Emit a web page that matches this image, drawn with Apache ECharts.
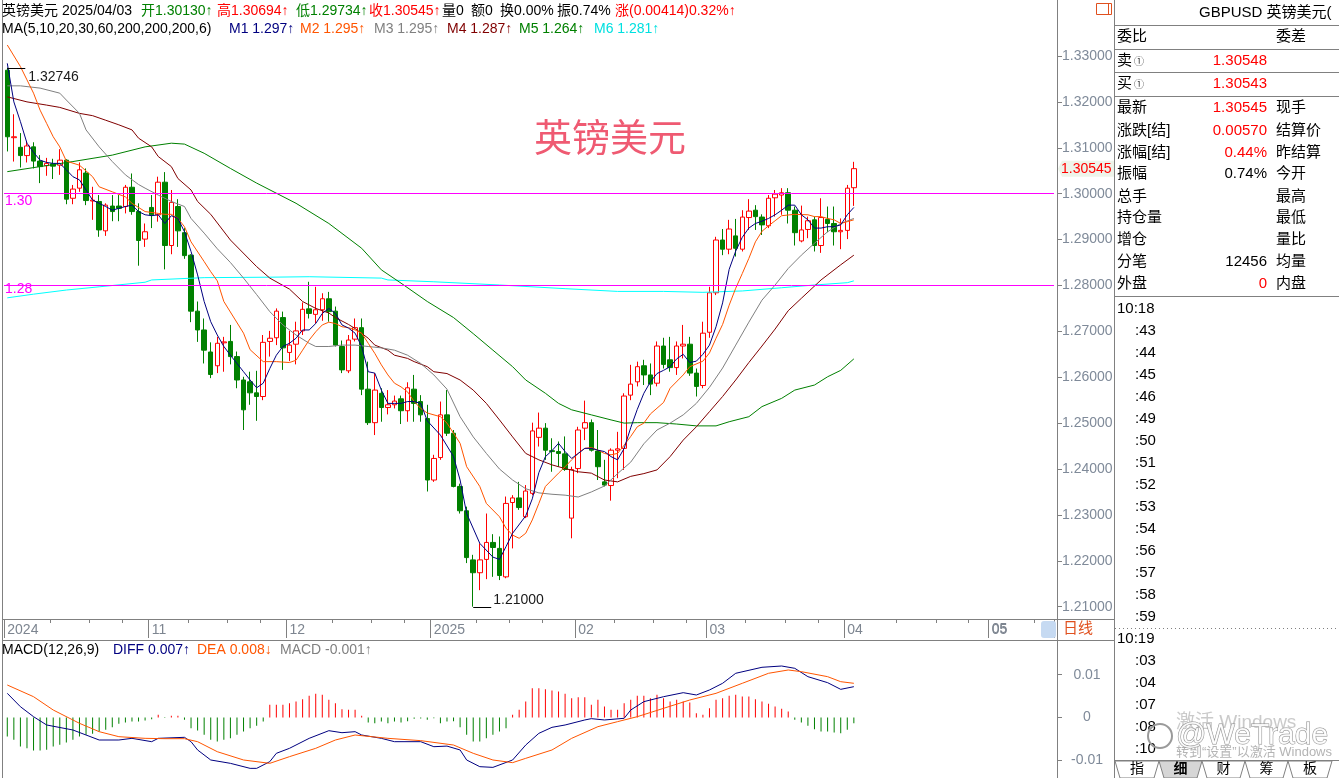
<!DOCTYPE html>
<html><head><meta charset="utf-8">
<script src="https://cdn.jsdelivr.net/npm/echarts@6/dist/echarts.min.js"></script>
<style>html,body{margin:0;padding:0;background:#fff;}#c{width:1339px;height:778px;}</style>
</head><body><div id="c"></div>
<script>
// ---------- trading days (categories) ----------
const oct24=[3,4,7,8,9,10,11,14,15,16,17,18,21,22,23,24,25,28,29,30,31];
const nov24=[1,4,5,6,7,8,11,12,13,14,15,18,19,20,21,22,25,26,27,28,29];
const dec24=[2,3,4,5,6,9,10,11,12,13,16,17,18,19,20,23,24,25,26,27,30,31];
const jan25=[2,3,6,7,8,9,10,13,14,15,16,17,20,21,22,23,24,27,28,29,30,31];
const feb25=[3,4,5,6,7,10,11,12,13,14,17,18,19,20,21,24,25,26,27,28];
const mar25=[3,4,5,6,7,10,11,12,13,14,17,18,19,20,21,24,25,26,27,28,31];
const apr25=[1,2,3,4,7,8,9,10,11,14,15,16,17,18,21,22,23,24,25,28,29,30];
const may25=[1,2,5,6,7,8,9,12,13,14,15];

// ---------- daily candles ----------
const opens=[1.3269,1.3122,1.3101,1.3083,1.3102,1.3071,1.3061,1.3065,1.3062,1.3073,
1.2990,1.3012,1.3045,1.2984,1.2983,1.2919,1.2973,1.2973,1.2972,1.3014,
1.2961,1.2901,1.2970,1.2954,1.3025,1.2887,1.2972,1.2915,1.2866,1.2744,
1.2703,1.2655,1.2625,1.2675,1.2678,1.2645,1.2594,1.2590,1.2566,1.2558,
1.2678,1.2686,1.2730,1.2654,1.2672,1.2701,1.2749,1.2737,1.2747,1.2771,
1.2744,1.2667,1.2614,1.2683,1.2708,1.2574,1.2501,1.2565,1.2534,1.2540,
1.2553,1.2527,1.2574,1.2547,1.2510,1.2376,1.2425,1.2518,1.2478,1.2362,
1.2309,1.2202,1.2174,1.2203,1.2240,1.2227,1.2165,1.2327,1.2337,1.2296,
1.2347,1.2469,1.2489,1.2440,1.2438,1.2433,1.2293,1.2401,1.2489,1.2501,
1.2439,1.2372,1.2364,1.2441,1.2445,1.2561,1.2590,1.2625,1.2605,1.2587,
1.2668,1.2638,1.2621,1.2668,1.2672,1.2609,1.2582,1.2698,1.2784,1.2899,
1.2879,1.2908,1.2879,1.2948,1.2964,1.2949,1.2930,1.2991,1.2997,1.3002,
1.2964,1.2897,1.2922,1.2943,1.2887,1.2944,1.2935,1.2917,1.2920,1.30130];
const closes=[1.3124,1.3124,1.3083,1.3104,1.3071,1.3059,1.3066,1.3060,1.3073,1.2988,
1.3010,1.3052,1.2985,1.2986,1.2921,1.2975,1.2961,1.2968,1.3014,1.2961,
1.2898,1.2917,1.2954,1.3025,1.2887,1.2981,1.2919,1.2865,1.2744,1.2703,
1.2659,1.2606,1.2674,1.2677,1.2645,1.2594,1.2529,1.2566,1.2558,1.2676,
1.2685,1.2744,1.2664,1.2670,1.2701,1.2748,1.2739,1.2747,1.2771,1.2743,
1.2670,1.2616,1.2681,1.2708,1.2574,1.2501,1.2572,1.2534,1.2540,1.2548,
1.2527,1.2577,1.2543,1.2518,1.2376,1.2423,1.2518,1.2478,1.2362,1.2309,
1.2207,1.2174,1.2202,1.2240,1.2229,1.2168,1.2325,1.2337,1.2316,1.2352,
1.2483,1.2489,1.2441,1.2438,1.2434,1.2399,1.2399,1.2485,1.2501,1.2441,
1.2405,1.2365,1.2441,1.2444,1.2559,1.2585,1.2623,1.2605,1.2585,1.2668,
1.2628,1.2621,1.2668,1.2672,1.2609,1.2580,1.2696,1.2784,1.2899,1.2879,
1.2923,1.2881,1.2949,1.2962,1.2950,1.2932,1.2990,1.2999,1.3002,1.2964,
1.2915,1.2921,1.2941,1.2887,1.2948,1.2935,1.2917,1.2920,1.3012,1.30545];
const lows=[1.3092,1.3070,1.3057,1.3068,1.3055,1.3023,1.3039,1.3032,1.3041,1.2977,
1.2977,1.3004,1.2975,1.2943,1.2906,1.2908,1.2940,1.2940,1.2957,1.2954,
1.2843,1.2884,1.2925,1.2939,1.2835,1.2868,1.2884,1.2858,1.2720,1.2677,
1.2630,1.2598,1.2609,1.2612,1.2628,1.2576,1.2485,1.2540,1.2505,1.2550,
1.2645,1.2670,1.2616,1.2635,1.2628,1.2692,1.2728,1.2717,1.2723,1.2721,
1.2667,1.2609,1.2609,1.2678,1.2561,1.2496,1.2474,1.2503,1.2519,1.2532,
1.2498,1.2503,1.2503,1.2503,1.2351,1.2372,1.2420,1.2472,1.2360,1.2303,
1.2195,1.2100,1.2136,1.2160,1.2165,1.2158,1.2162,1.2227,1.2311,1.2293,
1.2343,1.2449,1.2420,1.2394,1.2405,1.2396,1.2249,1.2391,1.2463,1.2438,
1.2376,1.2362,1.2331,1.2380,1.2398,1.2550,1.2580,1.2583,1.2561,1.2580,
1.2619,1.2612,1.2605,1.2641,1.2603,1.2558,1.2576,1.2686,1.2779,1.2866,
1.2868,1.2863,1.2874,1.2921,1.2921,1.2910,1.2925,1.2950,1.2954,1.2935,
1.2887,1.2894,1.2903,1.2874,1.2871,1.2916,1.2887,1.2879,1.2901,1.29734];
const highs=[1.32746,1.3173,1.3132,1.3115,1.3112,1.3084,1.3078,1.3076,1.3097,1.3075,
1.3019,1.3068,1.3055,1.3015,1.2997,1.2979,1.2997,1.2997,1.3019,1.3044,
1.2979,1.2935,1.2997,1.3037,1.3047,1.3008,1.2988,1.2925,1.2868,1.2765,
1.2728,1.2676,1.2688,1.2688,1.2714,1.2656,1.2601,1.2612,1.2614,1.2692,
1.2701,1.2750,1.2743,1.2701,1.2721,1.2763,1.2808,1.2797,1.2783,1.2786,
1.2754,1.2680,1.2692,1.2728,1.2728,1.2634,1.2609,1.2576,1.2572,1.2560,
1.2560,1.2589,1.2605,1.2561,1.2540,1.2431,1.2547,1.2572,1.2485,1.2368,
1.2318,1.2213,1.2238,1.2303,1.2258,1.2253,1.2340,1.2343,1.2372,1.2365,
1.2501,1.2523,1.2500,1.2467,1.2460,1.2471,1.2405,1.2492,1.2549,1.2508,
1.2485,1.2420,1.2445,1.2481,1.2565,1.2627,1.2634,1.2638,1.2630,1.2678,
1.2686,1.2688,1.2678,1.2714,1.2688,1.2619,1.2721,1.2797,1.2906,1.2923,
1.2943,1.2945,1.2964,1.2988,1.2975,1.2955,1.2997,1.3008,1.3012,1.3012,
1.2972,1.2974,1.2950,1.2950,1.2990,1.2972,1.2972,1.2946,1.3019,1.30694];

// ---------- moving averages: [dayIndex, value] ----------
const ma5=[[0,1.3284],[1,1.3200],[2,1.3157],[3,1.3110],[4,1.3090],[5,1.3073],[6,1.3068],[7,1.3066],[8,1.3066],[9,1.3052],[10,1.3037],[11,1.3030],[12,1.3008],[13,1.2986],[14,1.2979],[15,1.2972],[16,1.2964],[17,1.2968],[18,1.2972],[19,1.2975],[20,1.2961],[21,1.2954],[22,1.2952],[23,1.2954],[24,1.2935],[25,1.2952],[26,1.2946],[27,1.2917],[28,1.2874],[29,1.2823],[30,1.2765],[31,1.2721],[32,1.2692],[33,1.2667],[34,1.2648],[35,1.2630],[36,1.2612],[37,1.2594],[38,1.2577],[39,1.2587],[40,1.2619],[41,1.2648],[42,1.2667],[43,1.2674],[44,1.2685],[45,1.2703],[46,1.2703],[47,1.2717],[48,1.2739],[49,1.2750],[50,1.2739],[51,1.2714],[52,1.2707],[53,1.2696],[54,1.2667],[55,1.2612],[56,1.2609],[57,1.2572],[58,1.2543],[59,1.2543],[60,1.2543],[61,1.2547],[62,1.2547],[63,1.2543],[64,1.2505],[66,1.2474],[68,1.2427],[69,1.2376],[70,1.2303],[72,1.2238],[74,1.2208],[75,1.2203],[76,1.2231],[77,1.2260],[79,1.2298],[80,1.2335],[81,1.2392],[82,1.2427],[83,1.2440],[84,1.2456],[85,1.2438],[86,1.2423],[87,1.2434],[88,1.2445],[89,1.2445],[90,1.2441],[91,1.2438],[92,1.2427],[93,1.2420],[94,1.2445],[95,1.2490],[96,1.2530],[97,1.2565],[98,1.2590],[99,1.2608],[100,1.2615],[101,1.2623],[102,1.2640],[103,1.2650],[104,1.2632],[105,1.2635],[106,1.2650],[107,1.2670],[108,1.2710],[109,1.2762],[110,1.2835],[111,1.2875],[112,1.2905],[113,1.2925],[114,1.2935],[115,1.2940],[116,1.2946],[117,1.2954],[118,1.2964],[119,1.2975],[120,1.2975],[121,1.2954],[122,1.2943],[123,1.2925],[124,1.2925],[125,1.2928],[126,1.2928],[127,1.2932],[128,1.2954],[129,1.2970]];
const ma10=[[0,1.3324],[2,1.3277],[3,1.3248],[4,1.3219],[5,1.3182],[6,1.3153],[7,1.3124],[8,1.3102],[9,1.3071],[11,1.3062],[13,1.3037],[14,1.3015],[16,1.3004],[18,1.2993],[19,1.2979],[21,1.2961],[23,1.2957],[24,1.2955],[25,1.2955],[26,1.2946],[27,1.2928],[28,1.2895],[30,1.2852],[31,1.2830],[32,1.2810],[33,1.2765],[36,1.2696],[37,1.2660],[39,1.2634],[41,1.2634],[43,1.2632],[44,1.2637],[45,1.2659],[46,1.2681],[47,1.2699],[48,1.2714],[49,1.2720],[50,1.2717],[51,1.2710],[52,1.2708],[53,1.2703],[54,1.2696],[55,1.2674],[56,1.2652],[57,1.2627],[58,1.2605],[59,1.2587],[60,1.2579],[61,1.2568],[62,1.2547],[63,1.2532],[64,1.2522],[66,1.2514],[67,1.2500],[69,1.2456],[70,1.2405],[72,1.2362],[73,1.2325],[75,1.2296],[76,1.2271],[77,1.2256],[78,1.2249],[79,1.2260],[80,1.2289],[81,1.2325],[82,1.2362],[84,1.2391],[85,1.2405],[86,1.2420],[87,1.2434],[88,1.2445],[89,1.2447],[90,1.2441],[91,1.2434],[92,1.2431],[93,1.2434],[94,1.2452],[95,1.2471],[96,1.2492],[97,1.2500],[98,1.2520],[100,1.2545],[101,1.2576],[103,1.2605],[104,1.2623],[106,1.2635],[107,1.2653],[108,1.2685],[109,1.2715],[110,1.2757],[111,1.2794],[112,1.2826],[113,1.2859],[114,1.2895],[115,1.2918],[116,1.2930],[117,1.2941],[118,1.2952],[120,1.2955],[122,1.2954],[123,1.2950],[124,1.2950],[125,1.2946],[126,1.2943],[127,1.2935],[128,1.2939],[129,1.2943]];
const ma20=[[0,1.3235],[2,1.3235],[5,1.3230],[8,1.3219],[9,1.3204],[11,1.3175],[12,1.3139],[14,1.3102],[16,1.3070],[18,1.3041],[20,1.3020],[21,1.3012],[23,1.2997],[25,1.2983],[27,1.2972],[28,1.2946],[30,1.2914],[32,1.2880],[34,1.2850],[36,1.2816],[38,1.2780],[40,1.2743],[42,1.2714],[44,1.2692],[46,1.2674],[47,1.2667],[49,1.2667],[51,1.2670],[53,1.2670],[55,1.2667],[57,1.2664],[59,1.2659],[61,1.2648],[63,1.2630],[65,1.2605],[67,1.2574],[69,1.2514],[71,1.2470],[73,1.2434],[75,1.2400],[77,1.2376],[79,1.2357],[81,1.2348],[83,1.2345],[85,1.2343],[87,1.2339],[89,1.2350],[91,1.2363],[93,1.2390],[95,1.2415],[97,1.2455],[99,1.2485],[101,1.2500],[103,1.2518],[105,1.2543],[107,1.2578],[109,1.2620],[111,1.2670],[113,1.2720],[115,1.2768],[117,1.2801],[119,1.2837],[121,1.2866],[123,1.2892],[125,1.2917],[127,1.2935],[129,1.2946]];
const ma30=[[0,1.3211],[3,1.3200],[6,1.3193],[8,1.3188],[11,1.3175],[13,1.3170],[15,1.3160],[17,1.3150],[19,1.3139],[20,1.3121],[22,1.3102],[23,1.3081],[25,1.3059],[26,1.3033],[28,1.3008],[29,1.2983],[31,1.2955],[34,1.2899],[38,1.2841],[40,1.2816],[43,1.2792],[45,1.2765],[47,1.2750],[49,1.2740],[50,1.2730],[52,1.2715],[53,1.2706],[55,1.2685],[56,1.2670],[58,1.2659],[59,1.2648],[61,1.2641],[62,1.2634],[64,1.2623],[65,1.2612],[67,1.2608],[69,1.2594],[71,1.2572],[73,1.2543],[75,1.2507],[77,1.2470],[79,1.2434],[81,1.2420],[83,1.2409],[85,1.2401],[87,1.2394],[89,1.2391],[91,1.2376],[93,1.2372],[95,1.2384],[97,1.2390],[99,1.2398],[101,1.2427],[103,1.2463],[105,1.2492],[107,1.2525],[109,1.2558],[111,1.2594],[113,1.2632],[115,1.2668],[117,1.2705],[119,1.2745],[121,1.2772],[124,1.2812],[127,1.2845],[129,1.2866]];
const ma60=[[0,1.3048],[5,1.3059],[10,1.3070],[16,1.3084],[21,1.3102],[25,1.3110],[27,1.3108],[30,1.3088],[34,1.3055],[38,1.3023],[44,1.2979],[49,1.2935],[54,1.2881],[57,1.2834],[60,1.2805],[64,1.2765],[68,1.2730],[71,1.2695],[74,1.2659],[77,1.2623],[79,1.2594],[82,1.2565],[84,1.2543],[86,1.2529],[89,1.2518],[92,1.2507],[94,1.2500],[96,1.2501],[99,1.2501],[102,1.2498],[105,1.2494],[108,1.2494],[110,1.2503],[113,1.2514],[115,1.2536],[118,1.2554],[120,1.2572],[123,1.2583],[125,1.2601],[127,1.2615],[129,1.2640]];
const ma200=[[0,1.2773],[4,1.2781],[9,1.2790],[14,1.2797],[21,1.2807],[22,1.2812],[30,1.2817],[40,1.2818],[46,1.2819],[57,1.2816],[58,1.2812],[65,1.2808],[75,1.2801],[85,1.2793],[93,1.2787],[100,1.2787],[106,1.2785],[112,1.2788],[118,1.2795],[123,1.2801],[128,1.2806],[129,1.2810]];

// ---------- MACD ----------
const diff=[[0,0.00565],[2,0.00252],[4,0.00019],[6,-0.00175],[10,-0.00292],[14,-0.00526],[17,-0.00526],[19,-0.00487],[22,-0.00565],[23,-0.00487],[27,-0.00463],[28,-0.00565],[29,-0.00759],[31,-0.00993],[34,-0.01071],[37,-0.01188],[38,-0.01188],[40,-0.01032],[41,-0.00837],[43,-0.00720],[46,-0.00487],[49,-0.00308],[51,-0.00355],[53,-0.00331],[54,-0.00409],[57,-0.00487],[59,-0.00565],[63,-0.00565],[65,-0.00682],[67,-0.00668],[69,-0.00759],[70,-0.00993],[72,-0.01149],[74,-0.01165],[77,-0.00993],[79,-0.00643],[81,-0.00370],[83,-0.00230],[85,-0.00175],[88,-0.00058],[89,-0.00027],[91,-0.00058],[94,-0.00019],[95,0.00175],[97,0.00370],[100,0.00486],[103,0.00580],[105,0.00526],[107,0.00643],[109,0.00799],[111,0.01033],[115,0.01173],[118,0.01203],[120,0.01149],[122,0.00954],[125,0.00814],[127,0.00658],[129,0.00720]];
const dea=[[0,0.00759],[4,0.00486],[7,0.00175],[11,-0.00136],[14,-0.00331],[17,-0.00448],[21,-0.00487],[24,-0.00495],[27,-0.00495],[29,-0.00565],[32,-0.00799],[36,-0.00993],[40,-0.01071],[43,-0.00915],[47,-0.00720],[50,-0.00526],[53,-0.00409],[58,-0.00487],[63,-0.00541],[68,-0.00643],[71,-0.00837],[74,-0.00993],[77,-0.01055],[79,-0.00954],[83,-0.00759],[86,-0.00487],[90,-0.00214],[93,-0.00097],[96,0.00019],[100,0.00214],[104,0.00409],[108,0.00565],[112,0.00799],[116,0.01033],[119,0.01110],[121,0.01071],[125,0.00954],[127,0.00837],[129,0.00799]];
const hist=[-0.00444,-0.00522,-0.00678,-0.00717,-0.00771,-0.00771,-0.00755,-0.00678,-0.00639,-0.00584,
-0.00522,-0.00444,-0.00405,-0.00382,-0.00327,-0.00288,-0.00226,-0.00148,-0.00117,-0.00093,
-0.00093,-0.00070,-0.00039,0.00062,-0.00010,0.00039,0.00039,-0.00055,-0.00249,-0.00304,
-0.00405,-0.00522,-0.00561,-0.00522,-0.00483,-0.00405,-0.00327,-0.00249,-0.00195,-0.00093,
0.00296,0.00296,0.00296,0.00335,0.00374,0.00428,0.00506,0.00553,0.00530,0.00413,
0.00335,0.00195,0.00179,0.00179,0.00039,-0.00117,-0.00132,-0.00093,-0.00132,-0.00093,
-0.00117,-0.00086,-0.00031,-0.00023,-0.00055,-0.00016,-0.00132,-0.00093,-0.00086,-0.00226,
-0.00405,-0.00561,-0.00561,-0.00483,-0.00405,-0.00327,-0.00249,0.00062,0.00179,0.00374,
0.00685,0.00685,0.00662,0.00631,0.00607,0.00553,0.00452,0.00475,0.00475,0.00296,
0.00413,0.00257,0.00179,0.00179,0.00335,0.00413,0.00506,0.00506,0.00452,0.00530,
0.00452,0.00374,0.00413,0.00374,0.00350,0.00101,0.00062,0.00218,0.00413,0.00452,
0.00506,0.00530,0.00491,0.00491,0.00428,0.00374,0.00319,0.00257,0.00202,0.00140,
-0.00055,-0.00117,-0.00195,-0.00273,-0.00327,-0.00327,-0.00350,-0.00366,-0.00288,-0.00132];

// ---------- axis ticks / user lines ----------
const priceTicks=[1.21,1.22,1.23,1.24,1.25,1.26,1.27,1.28,1.29,1.30,1.31,1.32,1.33];
const macdTicks=[-0.01,0,0.01];
const hLines=[1.3001,1.2809];
const hLineLabels=['1.30','1.28'];

// ---------- build ----------
function mk(y,m,days){return days.map(d=>y+'-'+String(m).padStart(2,'0')+'-'+String(d).padStart(2,'0'));}
const categories=[].concat(mk(2024,10,oct24),mk(2024,11,nov24),mk(2024,12,dec24),mk(2025,1,jan25),mk(2025,2,feb25),mk(2025,3,mar25),mk(2025,4,apr25),mk(2025,5,may25));
const candles=opens.map((o,i)=>[o,closes[i],lows[i],highs[i]]);

const monthTick=new Set(), weekTick=new Set(), monthLabel={};
(function(){
  let cur=null, mIdx=[];
  categories.forEach((c,i)=>{ if(c.slice(0,7)!==cur){cur=c.slice(0,7); mIdx.push(i);} });
  mIdx.forEach((s,k)=>{
    const t = s===0?0:s+1; monthTick.add(t);
    const y=categories[s].slice(0,4), m=categories[s].slice(5,7);
    monthLabel[t]= (s===0)?y:(m==='01'?y:m);
    const end = k+1<mIdx.length?mIdx[k+1]:categories.length;
    [11,19,26].forEach(th=>{
      for(let i=s;i<end;i++){ if(+categories[i].slice(8,10)>=th){ if(i+1<categories.length) weekTick.add(i+1); break; } }
    });
  });
})();

const FONT="Arial, 'Liberation Sans', 'Noto Sans CJK SC', sans-serif";
const PMIN=1.207316, PMAX=1.342203;
const MMIN=-0.014136, MMAX=0.017874;

const chart=echarts.init(document.getElementById('c'),null,{renderer:'canvas',width:1339,height:778});
function maLine(name,data,color){return {name,type:'line',xAxisIndex:0,yAxisIndex:0,data,symbol:'none',showSymbol:false,smooth:false,lineStyle:{color,width:1},itemStyle:{color},silent:true,z:3};}

const option={
  animation:false,
  backgroundColor:'#ffffff',
  grid:[
    {left:4,top:0,width:1050,height:619,outerBoundsMode:'none',containLabel:false},
    {left:4,top:641,width:1050,height:137,outerBoundsMode:'none',containLabel:false}
  ],
  xAxis:[
    {type:'category',gridIndex:0,data:categories,boundaryGap:true,position:'bottom',
     axisLine:{show:true,lineStyle:{color:'#808080',width:1}},
     axisTick:{show:true,interval:(i)=>weekTick.has(i),length:4,lineStyle:{color:'#808080'}},
     axisLabel:{show:false},splitLine:{show:false}},
    {type:'category',gridIndex:0,data:categories,boundaryGap:true,position:'bottom',
     axisLine:{show:false},
     axisTick:{show:true,interval:(i)=>monthTick.has(i),length:19,lineStyle:{color:'#808080'}},
     axisLabel:{show:true,interval:(i)=>monthTick.has(i),hideOverlap:false,
       formatter:(v,i)=>monthLabel[i]||'',align:'left',margin:4,color:'#7d8590',fontSize:14,fontFamily:FONT},
     splitLine:{show:false}},
    {type:'category',gridIndex:1,data:categories,boundaryGap:true,show:false}
  ],
  yAxis:[
    {type:'value',gridIndex:0,position:'right',min:PMIN,max:PMAX,offset:3,scale:true,
     axisLine:{show:true,lineStyle:{color:'#808080'}},
     axisTick:{show:true,customValues:priceTicks,length:5,lineStyle:{color:'#808080'}},
     axisLabel:{show:true,customValues:priceTicks,formatter:(v)=>v.toFixed(5),margin:5,color:'#7f8a99',fontSize:14,fontFamily:FONT},
     splitLine:{show:false}},
    {type:'value',gridIndex:1,position:'right',min:MMIN,max:MMAX,offset:3,scale:true,
     axisLine:{show:true,lineStyle:{color:'#808080'}},
     axisTick:{show:true,customValues:macdTicks,length:5,lineStyle:{color:'#808080'}},
     axisLabel:{show:true,customValues:macdTicks,formatter:(v)=>Math.abs(v)<1e-9?'0':v.toFixed(2),align:'center',margin:30,color:'#7f8a99',fontSize:14,fontFamily:FONT},
     splitLine:{show:false}}
  ],
  series:[
    {name:'K',type:'candlestick',xAxisIndex:0,yAxisIndex:0,data:candles,barWidth:5,silent:true,z:2,
     itemStyle:{color:'#ffffff',color0:'#008000',borderColor:'#ff0000',borderColor0:'#008000',borderWidth:1},
     markLine:{silent:true,symbol:['none','none'],animation:false,label:{show:false},
       lineStyle:{color:'#ff00ff',width:1,type:'solid'},
       data:hLines.map(v=>({yAxis:v}))}},
    maLine('MA200',ma200,'#00ffff'),
    maLine('MA60',ma60,'#008000'),
    maLine('MA30',ma30,'#800000'),
    maLine('MA20',ma20,'#808080'),
    maLine('MA10',ma10,'#ff5500'),
    maLine('MA5',ma5,'#000080'),
    {name:'MACD',type:'bar',xAxisIndex:2,yAxisIndex:1,barWidth:1,silent:true,
     data:hist.map(v=>({value:v,itemStyle:{color:v>=0?'#ff0000':'#008000'}}))},
    {name:'DIFF',type:'line',xAxisIndex:2,yAxisIndex:1,data:diff,symbol:'none',lineStyle:{color:'#000080',width:1},silent:true},
    {name:'DEA',type:'line',xAxisIndex:2,yAxisIndex:1,data:dea,symbol:'none',lineStyle:{color:'#ff5500',width:1},silent:true}
  ]
};
chart.setOption(option);

// ---------- decorations / text ----------
function T(x,y,text,color,size,o){o=o||{};
  return {type:'text',x,y,silent:true,z:100,style:{text,fill:color,font:(o.bold?'bold ':'')+size+'px '+FONT,
    align:o.align||'left',textAlign:o.align||'left',verticalAlign:'middle',textVerticalAlign:'middle',opacity:o.opacity==null?1:o.opacity}};}
function L(x1,y1,x2,y2,c,o){o=o||{};return {type:'line',silent:true,z:90,shape:{x1,y1,x2,y2},style:{stroke:c,lineWidth:1,lineDash:o.dash||null}};}

const g=[];
// frame
g.push(L(2.5,0,2.5,778,'#808080'));
g.push(L(1057.5,0,1057.5,778,'#808080'));
g.push(L(2,619.5,1114,619.5,'#808080'));
g.push(L(2,640.5,1114,640.5,'#808080'));
g.push(L(1114.5,0,1114.5,778,'#808080'));

// "05" month label (May) drawn at its axis tick
(function(){
  const idxs=[...monthTick];
  const lastT=Math.max(...idxs);
  const px=chart.convertToPixel({xAxisIndex:1},lastT);
  g.push(T(px,629.5,monthLabel[lastT],'#7d8590',14));
})();

// header line 1
const G='#008000',R='#ff0000',K='#000000';
[[2,'英镑美元',K],[62,'2025/04/03',K],[141,'开1.30130↑',G],[217,'高1.30694↑',R],[296,'低1.29734↑',G],[369,'收1.30545↑',R],
 [442,'量0',K],[471,'额0',K],[500,'换0.00%',K],[557,'振0.74%',K],[615,'涨(0.00414)0.32%↑',R]].forEach(a=>g.push(T(a[0],11,a[1],a[2],14)));
// header line 2 (MA legend)
[[2,'MA(5,10,20,30,60,200,200,200,6)',K],[229,'M1 1.297↑','#000080'],[300,'M2 1.295↑','#ff5500'],[374,'M3 1.295↑','#808080'],
 [447,'M4 1.287↑','#800000'],[519,'M5 1.264↑','#008000'],[594,'M6 1.281↑','#00e0e0']].forEach(a=>g.push(T(a[0],29,a[1],a[2],14)));
// MACD legend
[[2,'MACD(12,26,9)',K],[113,'DIFF 0.007↑','#000080'],[197,'DEA 0.008↓','#ff5500'],[280,'MACD -0.001↑','#808080']].forEach(a=>g.push(T(a[0],650,a[1],a[2],14)));

// big watermark
g.push(T(610,141,'英镑美元','#ef5a72',38,{align:'center'}));

// user line labels
hLines.forEach((v,k)=>{const p=chart.convertToPixel({xAxisIndex:0,yAxisIndex:0},[0,v]); g.push(T(5,p[1]+8,hLineLabels[k],'#ff00ff',14));});

// high / low annotation + last price tag
(function(){
  let hi=0,lo=0; highs.forEach((h,i)=>{if(h>highs[hi])hi=i;}); lows.forEach((l,i)=>{if(l<lows[lo])lo=i;});
  const ph=chart.convertToPixel({xAxisIndex:0,yAxisIndex:0},[hi,highs[hi]]);
  const pl=chart.convertToPixel({xAxisIndex:0,yAxisIndex:0},[lo,lows[lo]]);
  g.push(L(ph[0],Math.round(ph[1])+0.5,ph[0]+18,Math.round(ph[1])+0.5,'#000000'));
  g.push(T(ph[0]+21,ph[1]+9,highs[hi].toFixed(5),'#1a1a1a',14));
  g.push(L(pl[0],Math.round(pl[1])+0.5,pl[0]+18,Math.round(pl[1])+0.5,'#000000'));
  g.push(T(pl[0]+20,pl[1]-7,lows[lo].toFixed(5),'#1a1a1a',14));
  const last=closes[closes.length-1];
  const pp=chart.convertToPixel({xAxisIndex:0,yAxisIndex:0},[closes.length-1,last]);
  const y=pp[1];
  g.push({type:'polygon',silent:true,z:95,shape:{points:[[1058,y],[1062,y-8],[1114,y-8],[1114,y+8],[1062,y+8]]},style:{fill:'#eef4ea'}});
  g.push(T(1061,y,last.toFixed(5),'#ff0000',14,{}));
})();

// x-axis strip extras
g.push({type:'rect',silent:true,z:95,shape:{x:1041,y:621,width:15,height:17,r:3},style:{fill:'#c6daf2'}});
g.push(T(1063,629,'日线','#e0501e',15));
g.push({type:'rect',silent:true,z:95,shape:{x:1096.5,y:3.5,width:15,height:11},style:{fill:'none',stroke:'#e0501e',lineWidth:1}});
g.push(L(1108.5,3.5,1108.5,14.5,'#e0501e'));

// right panel
g.push(T(1199,13,'GBPUSD 英镑美元(','#000000',15));
[25.5,49.5,72.5,96.5,296.5].forEach(y=>g.push(L(1114,y,1339,y,'#808080')));
const rowY=[37,61,84,108,131,153,174,197,218,240,262,284];
const rowL=['委比','卖','买','最新','涨跌[结]','涨幅[结]','振幅','总手','持仓量','增仓','分笔','外盘'];
const rowV=['','1.30548','1.30543','1.30545','0.00570','0.44%','0.74%','','','','12456','0'];
const rowVC=[K,R,R,R,R,R,K,K,K,K,K,R];
const rowR=['委差','','','现手','结算价','昨结算','今开','最高','最低','量比','均量','内盘'];
rowY.forEach((y,k)=>{
  g.push(T(1117,y,rowL[k],'#000000',15));
  if(rowV[k]) g.push(T(1267,y,rowV[k],rowVC[k],15,{align:'right'}));
  if(rowR[k]) g.push(T(1276,y,rowR[k],'#000000',15));
});
g.push(T(1134,62,'①','#333333',10)); g.push(T(1134,85,'①','#333333',10));
const times1=['10:18',':43',':44',':45',':46',':49',':50',':51',':52',':53',':54',':56',':57',':58',':59'];
const times2=['10:19',':03',':04',':07',':08',':10'];
times1.forEach((t,k)=>g.push(T(k===0?1117:1135,309+22*k,t,'#000000',15)));
g.push(L(1115,628.5,1339,628.5,'#808080',{dash:[1,3]}));
times2.forEach((t,k)=>g.push(T(k===0?1117:1135,639+22*k,t,'#000000',15)));
// tabs
const tabX=[1115,1159,1202,1245,1288,1332], tabN=['指','细','财','筹','板'];
g.push(L(1114,760.5,1339,760.5,'#808080'));
tabN.forEach((n,k)=>{
  const x0=tabX[k],x1=tabX[k+1];
  g.push({type:'polygon',silent:true,z:91,shape:{points:[[x0,761],[x0+5,778],[x1-5,778],[x1,761]]},style:{fill:k===1?'#d6d6d6':'#ffffff',stroke:'#808080',lineWidth:1}});
  g.push(T((x0+x1)/2,769,n,'#000000',14,{align:'center',bold:k===1}));
});
// watermark / activation overlay
g.push(T(1176,723,'激活 Windows','#c4c4c4',19,{opacity:0.9}));
g.push({type:'circle',silent:true,z:101,shape:{cx:1160,cy:736,r:12},style:{fill:'none',stroke:'#9a9a9a',lineWidth:2}});
g.push({type:'text',x:1176,y:736,silent:true,z:102,style:{text:'@WeTrade',fill:'rgba(255,255,255,0.85)',stroke:'#8c8c8c',lineWidth:1,font:'30px '+FONT,verticalAlign:'middle',textVerticalAlign:'middle'}});
g.push(T(1176,752,'转到“设置”以激活 Windows','#b4b4b4',13));

chart.setOption({graphic:g});
</script>
</body></html>
